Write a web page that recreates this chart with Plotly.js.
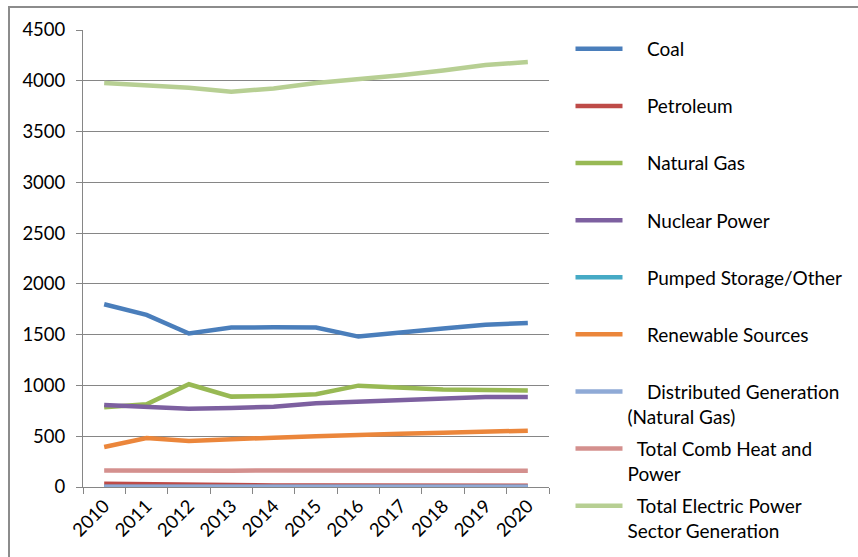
<!DOCTYPE html>
<html>
<head>
<meta charset="utf-8">
<script src="https://cdn.plot.ly/plotly-3.0.1.min.js"></script>
<style>
  html, body { margin: 0; padding: 0; background: #ffffff; }
  #wrap { position: relative; width: 858px; height: 557px; overflow: hidden; }
  #frame { position: absolute; left: 8px; top: 6px; width: 900px; height: 600px;
           border-top: 2px solid #8c8c8c; border-left: 2px solid #8c8c8c; box-sizing: border-box; pointer-events: none; }
  #chart { position: absolute; left: 0; top: 0; width: 858px; height: 557px; }
</style>
</head>
<body>
<div id="wrap">
  <div id="chart"></div>
  <div id="frame"></div>
</div>
<script>
const years = ["2010","2011","2012","2013","2014","2015","2016","2017","2018","2019","2020"];

const coal        = [1800, 1695, 1512, 1570, 1573, 1570, 1481, 1524, 1560, 1598, 1615];
const petroleum   = [33, 26, 19, 17, 16, 16, 15, 14, 14, 13, 13];
const naturalGas  = [785, 815, 1012, 890, 897, 913, 998, 975, 959, 955, 949];
const nuclear     = [808, 795, 771, 778, 791, 824, 840, 860, 880, 887, 887];
const pumped      = [1, 1, 1, 1, 1, 1, 1, 1, 1, 1, 1];
const renewable   = [394, 483, 453, 473, 486, 499, 515, 525, 533, 542, 555];
const distributed = [3, 3, 3, 3, 3, 3, 3, 3, 3, 3, 3];
const combHeat    = [162, 159, 161, 161, 162, 162, 162, 161, 161, 161, 161];
const totalElec   = [3977, 3957, 3932, 3892, 3924, 3977, 4012, 4055, 4101, 4155, 4184];

const seriesNames = [
  "\u00A0\u00A0\u00A0\u00A0Coal<br>\u00A0",
  "\u00A0\u00A0\u00A0\u00A0Petroleum<br>\u00A0",
  "\u00A0\u00A0\u00A0\u00A0Natural Gas<br>\u00A0",
  "\u00A0\u00A0\u00A0\u00A0Nuclear Power<br>\u00A0",
  "\u00A0\u00A0\u00A0\u00A0Pumped Storage/Other<br>\u00A0",
  "\u00A0\u00A0\u00A0\u00A0Renewable Sources<br>\u00A0",
  "\u00A0\u00A0\u00A0\u00A0Distributed Generation<br>(Natural Gas)",
  "\u00A0\u00A0Total Comb Heat and<br>Power",
  "\u00A0\u00A0Total Electric Power<br>Sector Generation"
];
const seriesValues = [coal, petroleum, naturalGas, nuclear, pumped, renewable, distributed, combHeat, totalElec];
const seriesColors = ["#4A7EBB", "#BE4B48", "#98B954", "#7D60A0", "#46AAC5", "#EB863B", "#8FAAD6", "#D4908E", "#B7CF93"];

const traces = seriesValues.map((vals, i) => ({
  type: "scatter",
  mode: "lines",
  x: years,
  y: vals,
  name: seriesNames[i],
  legendgroup: "g" + i,
  line: { color: seriesColors[i], width: 4.5, shape: "linear" },
  hoverinfo: "skip"
}));

const FONT = "Lato, 'Open Sans', sans-serif";

const layout = {
  width: 858,
  height: 557,
  paper_bgcolor: "#ffffff",
  plot_bgcolor: "#ffffff",
  font: { family: FONT, size: 18.5, color: "#000000" },
  margin: { l: 83, r: 308, t: 30, b: 70, pad: 0 },
  showlegend: true,
  legend: {
    x: 1.0439, xanchor: "left",
    y: 1.0, yanchor: "top",
    valign: "top",
    tracegroupgap: 4.7,
    maxheight: 1000,
    itemwidth: 47,
    font: { family: FONT, size: 19, color: "#000000" },
    bgcolor: "rgba(0,0,0,0)",
    borderwidth: 0
  },
  xaxis: {
    type: "category",
    categoryorder: "array",
    categoryarray: years,
    range: [-0.5, 10.5],
    tickson: "boundaries",
    ticks: "outside",
    ticklen: 6,
    tickwidth: 1,
    tickcolor: "#868686",
    showline: true,
    linecolor: "#868686",
    linewidth: 1,
    showgrid: false,
    zeroline: false,
    tickangle: -45,
    tickfont: { family: FONT, size: 18.5, color: "#000000" },
    fixedrange: true
  },
  yaxis: {
    range: [0, 4500],
    tickmode: "array",
    tickvals: [0, 500, 1000, 1500, 2000, 2500, 3000, 3500, 4000, 4500],
    ticktext: ["0", "500", "1000", "1500", "2000", "2500", "3000", "3500", "4000", "4500"],
    ticks: "outside",
    ticklen: 6,
    tickwidth: 1,
    tickcolor: "#868686",
    showline: true,
    linecolor: "#868686",
    linewidth: 1,
    showgrid: true,
    gridcolor: "#868686",
    gridwidth: 1,
    zeroline: false,
    ticklabelstandoff: 7,
    tickfont: { family: FONT, size: 18.5, color: "#000000" },
    fixedrange: true
  }
};

Plotly.newPlot("chart", traces, layout, { staticPlot: true, displayModeBar: false });
</script>
</body>
</html>
